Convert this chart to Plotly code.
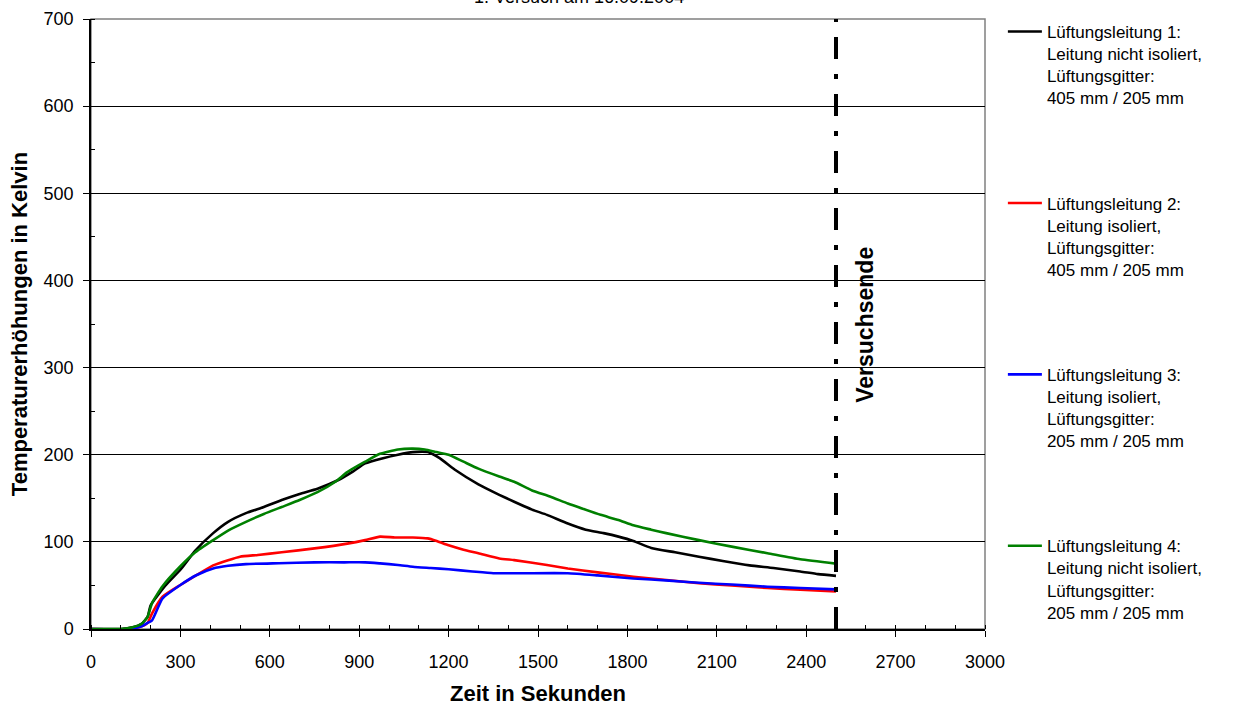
import plotly.graph_objects as go

# ---- data ----
t_black = [0, 100, 140, 170, 190, 200, 250, 300, 350, 410, 460, 520, 580, 640, 700, 760, 830, 880, 920, 980,
           1030, 1080, 1130, 1170, 1220, 1300, 1370, 1420, 1480, 1530, 1600, 1660, 1720, 1770, 1820, 1880,
           1960, 2040, 2120, 2210, 2290, 2380, 2440, 2500]
v_black = [0, 0, 2, 6, 14, 27, 50, 68, 90, 110, 123, 133, 140, 148, 155, 161, 171, 181, 190, 196,
           200, 203, 203, 196, 183, 166, 154, 146, 137, 131, 121, 114, 110, 106, 101, 93,
           88, 83, 78, 73, 70, 66, 63, 61]

t_red = [0, 120, 170, 190, 205, 240, 300, 355, 410, 460, 500, 560, 640, 750, 860, 920, 970, 1020, 1080, 1130,
         1160, 1200, 1250, 1300, 1370, 1420, 1530, 1600, 1700, 1820, 1940, 2040, 2150, 2270, 2380, 2500]
v_red = [0, 0, 3, 7, 18, 37, 50.5, 62, 73, 79, 83, 85, 88, 92.5, 98, 102, 106, 105, 105, 104,
         101, 96, 91, 87, 81, 79, 73.5, 69.5, 65, 60, 56, 52.5, 50, 47, 45, 43]

t_blue = [0, 120, 170, 190, 205, 240, 300, 355, 410, 460, 520, 630, 750, 850, 920, 970, 1030, 1080, 1140,
          1200, 1280, 1350, 1450, 1600, 1700, 1820, 1940, 2040, 2150, 2270, 2380, 2500]
v_blue = [0, 0, 3, 7, 10, 35, 50.5, 62, 69.5, 72.5, 74.5, 75.5, 76.5, 76.5, 76.5, 75.3, 73.5, 71.5, 70,
          68.5, 66, 64, 64, 64, 61.5, 58, 55.5, 53, 51, 48.5, 47, 45.5]

t_green = [0, 100, 140, 170, 190, 205, 240, 300, 350, 410, 460, 520, 580, 640, 700, 760, 820, 860, 920, 970,
           1030, 1080, 1120, 1160, 1200, 1250, 1300, 1370, 1420, 1480, 1540, 1600, 1650, 1710, 1770, 1820,
           1880, 1930, 2040, 2150, 2270, 2380, 2500]
v_green = [0, 0, 2, 6, 14, 30, 49, 72, 88, 102, 113, 123, 132, 140, 148, 157, 169, 180, 192, 201,
           206, 207, 206, 203, 200, 192, 184, 175, 169, 159, 152, 144, 138, 131, 125, 119,
           114, 110, 102, 94.5, 87, 80, 75]

names = [
    "Lüftungsleitung 1:<br>Leitung nicht isoliert,<br>Lüftungsgitter:<br>405 mm / 205 mm",
    "Lüftungsleitung 2:<br>Leitung isoliert,<br>Lüftungsgitter:<br>405 mm / 205 mm",
    "Lüftungsleitung 3:<br>Leitung isoliert,<br>Lüftungsgitter:<br>205 mm / 205 mm",
    "Lüftungsleitung 4:<br>Leitung nicht isoliert,<br>Lüftungsgitter:<br>205 mm / 205 mm",
]
colors = ["#000000", "#FF0000", "#0000FF", "#008000"]

end_time = 2500
end_line_y = [0, 700]
end_label = "Versuchsende"
title = "1. Versuch am 16.09.2004"

FONT = "Liberation Sans, Arial, sans-serif"

fig = go.Figure()
series = [(t_black, v_black), (t_red, v_red), (t_blue, v_blue), (t_green, v_green)]
for i, ((tx, vy), nm, c) in enumerate(zip(series, names, colors)):
    fig.add_trace(go.Scatter(
        x=tx, y=vy, mode="lines", name=nm, legendgroup=f"g{i}",
        line=dict(color=c, width=2.6, shape="spline", smoothing=0.5),
    ))

fig.add_trace(go.Scatter(
    x=[end_time, end_time], y=end_line_y, mode="lines", showlegend=False,
    line=dict(color="black", width=4, dash="22px,15px,5px,15px"),
))

fig.add_annotation(x=2597, y=349, xref="x", yref="y", text=f"<b>{end_label}</b>",
                   textangle=-90, showarrow=False, font=dict(size=23, color="black", family=FONT))

fig.add_annotation(x=(579 - 91) / 894, y=1.036, xref="paper", yref="paper", text=title,
                   showarrow=False, yanchor="middle", font=dict(size=18, color="black", family=FONT))

# plot frame (grey top/right)
fig.add_shape(type="rect", xref="paper", yref="paper", x0=0, x1=1, y0=0, y1=1,
              line=dict(color="#808080", width=1.5), layer="below")

fig.update_layout(
    width=1245, height=706,
    margin=dict(l=91, r=260, t=19, b=77, autoexpand=False),
    paper_bgcolor="white", plot_bgcolor="white",
    font=dict(family=FONT, size=18, color="black"),
    showlegend=True,
    legend=dict(
        x=1.02, xanchor="left", yref="container", y=1 - 14 / 706, yanchor="top", valign="top",
        font=dict(size=17, family=FONT, color="black"),
        tracegroupgap=80, itemwidth=34, bgcolor="rgba(0,0,0,0)", maxheight=1,
    ),
    xaxis=dict(
        range=[0, 3000], tickmode="linear", tick0=0, dtick=300, automargin=False,
        showline=True, linecolor="black", linewidth=1.5,
        ticks="outside", ticklen=6, tickcolor="black", ticklabelstandoff=10,
        minor=dict(dtick=100, ticks="inside", ticklen=4, tickcolor="black"),
        showgrid=False, zeroline=False,
        title=dict(text="<b>Zeit in Sekunden</b>", font=dict(size=22, family=FONT), standoff=16),
        tickfont=dict(size=18, family=FONT),
    ),
    yaxis=dict(
        range=[0, 700], tickmode="linear", tick0=0, dtick=100, automargin=False,
        showline=True, linecolor="black", linewidth=1.5,
        ticks="outside", ticklen=6, tickcolor="black", ticklabelstandoff=6,
        minor=dict(dtick=50, ticks="inside", ticklen=4, tickcolor="black", showgrid=False),
        showgrid=True, gridcolor="black", gridwidth=1, zeroline=False,
        title=dict(text="<b>Temperaturerhöhungen in Kelvin</b>", font=dict(size=22, family=FONT), standoff=10),
        tickfont=dict(size=18, family=FONT),
    ),
)

fig.write_html("out.html")
